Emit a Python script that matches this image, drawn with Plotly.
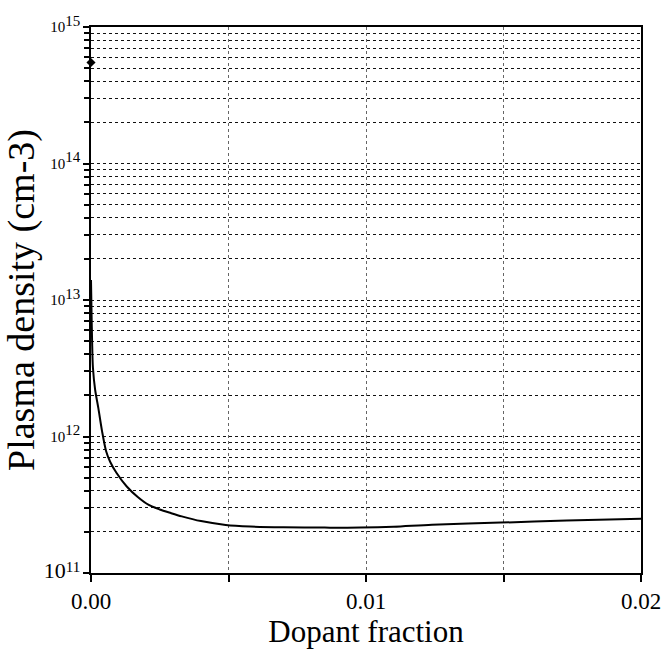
import plotly.graph_objects as go

# curve
dopant_fraction = [0.0, 0.00002, 0.00004, 0.00007, 0.00015, 0.00027, 0.0004, 0.00055,
                   0.0007, 0.00093, 0.0013, 0.0017, 0.0021, 0.0025, 0.0029, 0.0033,
                   0.004, 0.0049, 0.0058, 0.007, 0.0085, 0.0098, 0.011, 0.0124,
                   0.0149, 0.0173, 0.02]
plasma_density = [1.4e13, 8e12, 5e12, 3.2e12, 2.2e12, 1.6e12, 1.1e12, 7.8e11,
                  6.5e11, 5.4e11, 4.3e11, 3.6e11, 3.15e11, 2.92e11, 2.75e11, 2.6e11,
                  2.4e11, 2.25e11, 2.19e11, 2.16e11, 2.15e11, 2.15e11, 2.18e11, 2.26e11,
                  2.34e11, 2.42e11, 2.5e11]

# single point at the top left
point_x = [0.0]
point_y = [5.5e14]

decades = [11, 12, 13, 14, 15]
x_ticks = [0.0, 0.01, 0.02]
x_labels = ["0.00", "0.01", "0.02"]
x_minor = [0.005, 0.015]

# decade labels, the bottom one is printed larger
y_ticks = [10.0 ** d for d in decades]
y_labels = []
for d in decades:
    base = 22 if d == 11 else 15
    y_labels.append(f"<span style='font-size:{base}px'>10</span>"
                    f"<sup><span style='font-size:15px'>{d}</span></sup>")
# 2..9 x 10^n lines
y_minor = [m * 10.0 ** d for d in decades[:-1] for m in range(2, 10)]

fig = go.Figure()
fig.add_trace(go.Scatter(x=dopant_fraction, y=plasma_density, mode="lines",
                         line=dict(color="black", width=2, shape="spline", smoothing=0.8),
                         showlegend=False))
fig.add_trace(go.Scatter(x=point_x, y=point_y, mode="markers",
                         marker=dict(color="black", size=7, symbol="diamond"),
                         showlegend=False, cliponaxis=False))

grid_h = dict(showgrid=True, gridcolor="#111", griddash="dot", gridwidth=1.2)

fig.update_layout(
    width=661, height=649,
    margin=dict(l=91, r=20, t=27, b=76),
    paper_bgcolor="white", plot_bgcolor="white",
    font=dict(family="Liberation Serif", color="black"),
    xaxis=dict(
        range=[0, 0.02], tickvals=x_ticks, ticktext=x_labels, automargin=False,
        ticklabeloverflow="allow",
        ticks="outside", ticklen=7, tickcolor="black", tickwidth=1.5,
        showline=True, linecolor="black", linewidth=1.5, mirror=True,
        showgrid=True, gridcolor="#666", griddash="dot", gridwidth=1,
        minor=dict(tickvals=x_minor, ticks="outside", ticklen=7, tickcolor="black",
                   showgrid=True, gridcolor="#666", griddash="dot", gridwidth=1),
        zeroline=False, tickfont=dict(size=23),
        title=dict(text="Dopant fraction", font=dict(size=31), standoff=0),
    ),
    yaxis=dict(
        type="log", range=[11, 15], tickvals=y_ticks, ticktext=y_labels, automargin=False,
        ticks="outside", ticklen=6, tickcolor="black", tickwidth=1.5,
        showline=True, linecolor="black", linewidth=1.5, mirror=True,
        minor=dict(tickvals=y_minor, ticks="outside", ticklen=5, tickcolor="black", **grid_h),
        zeroline=False, tickfont=dict(size=15),
        title=dict(text="Plasma density (cm-3)", font=dict(size=38), standoff=6),
        **grid_h,
    ),
)

# drop the default page margin so the figure sits at the window's corner
fig.write_html("out.html", config={"displayModeBar": False},
               post_script="document.body.style.margin='0';document.body.style.overflow='hidden';")
